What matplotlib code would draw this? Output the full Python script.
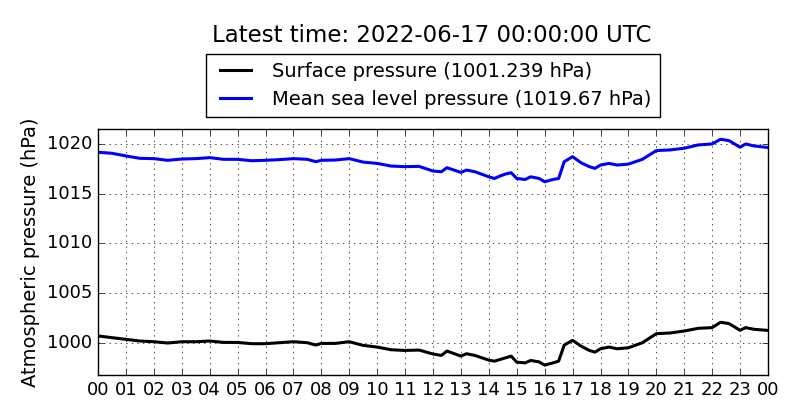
import datetime as dt
import matplotlib
matplotlib.use("Agg")
import matplotlib.pyplot as plt
import matplotlib.dates as mdates
import numpy as np

# hours after 2022-06-16 00:00 UTC
hours = [0, 0.5, 1, 1.5, 2, 2.5, 3, 3.5, 4, 4.5, 5, 5.5, 6, 6.5, 7, 7.5, 7.8, 8, 8.5,
         9, 9.5, 10, 10.5, 11, 11.5, 12, 12.3, 12.5, 13, 13.2, 13.5, 14, 14.2, 14.4,
         14.6, 14.8, 15, 15.3, 15.5, 15.8, 16, 16.3, 16.5, 16.7, 17, 17.3, 17.6, 17.8,
         18, 18.3, 18.6, 19, 19.5, 20, 20.5, 21, 21.5, 22, 22.3, 22.6, 23, 23.2, 23.5, 24]

surface = [1000.68, 1000.51, 1000.34, 1000.17, 1000.10, 999.97, 1000.10, 1000.10, 1000.17,
           1000.03, 1000.03, 999.90, 999.90, 1000.00, 1000.10, 1000.00, 999.76, 999.93,
           999.93, 1000.10, 999.73, 999.56, 999.29, 999.22, 999.26, 998.86, 998.72, 999.16,
           998.65, 998.89, 998.72, 998.24, 998.14, 998.31, 998.48, 998.65, 998.04, 997.97,
           998.21, 998.07, 997.74, 997.97, 998.14, 999.76, 1000.24, 999.66, 999.22, 999.05,
           999.39, 999.56, 999.39, 999.49, 1000.00, 1000.91, 1000.98, 1001.18, 1001.45,
           1001.52, 1002.06, 1001.93, 1001.25, 1001.52, 1001.35, 1001.239]

msl = [1019.19, 1019.09, 1018.82, 1018.58, 1018.55, 1018.38, 1018.51, 1018.55, 1018.65,
       1018.48, 1018.48, 1018.34, 1018.38, 1018.45, 1018.55, 1018.48, 1018.24, 1018.38,
       1018.41, 1018.55, 1018.20, 1018.07, 1017.80, 1017.74, 1017.77, 1017.30, 1017.23,
       1017.64, 1017.16, 1017.40, 1017.23, 1016.72, 1016.55, 1016.80, 1017.00, 1017.13,
       1016.55, 1016.45, 1016.72, 1016.55, 1016.22, 1016.45, 1016.55, 1018.24, 1018.75,
       1018.14, 1017.74, 1017.57, 1017.90, 1018.07, 1017.90, 1018.00, 1018.48, 1019.36,
       1019.43, 1019.60, 1019.93, 1020.03, 1020.50, 1020.37, 1019.70, 1020.03, 1019.83,
       1019.67]

start = dt.datetime(2022, 6, 16)
times = [start + dt.timedelta(hours=h) for h in hours]

plt.style.use("classic")
fig = plt.figure(figsize=(8, 4.2), dpi=100, facecolor="white")
ax = fig.add_axes([0.1225, 0.107, 0.8375, 0.585])

ax.plot(times, surface, color="black", linewidth=2.2,
        label="Surface pressure (%s hPa)" % surface[-1])
ax.plot(times, msl, color="blue", linewidth=2.2,
        label="Mean sea level pressure (%s hPa)" % msl[-1])

ax.set_xlim(times[0], times[-1])
ax.set_ylim(min(surface) - 1, max(msl) + 1)
ax.ticklabel_format(axis="y", useOffset=False)
ax.xaxis.set_major_locator(mdates.HourLocator())
ax.xaxis.set_major_formatter(mdates.DateFormatter("%H"))
ax.tick_params(labelsize=13)
ax.set_ylabel("Atmospheric pressure (hPa)", fontsize=14)
ax.grid(True)

ax.legend(loc="lower center", bbox_to_anchor=(0.5, 1.05), fontsize=14,
          handlelength=2.2, borderaxespad=0, borderpad=0.4, labelspacing=0.5)
fig.text(0.54, 0.9, "Latest time: %s UTC" % times[-1].strftime("%Y-%m-%d %H:%M:%S"),
         ha="center", fontsize=16.5)

fig.savefig("out.png", dpi=100, facecolor="white")
